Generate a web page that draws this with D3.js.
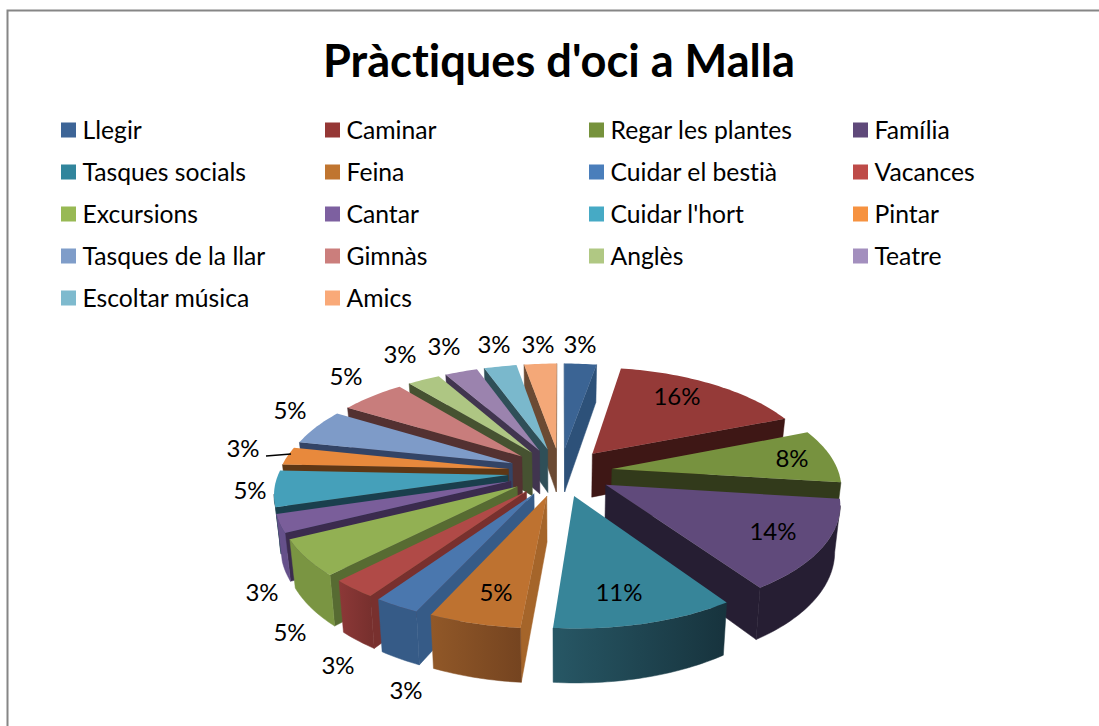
<!DOCTYPE html>
<html><head><meta charset="utf-8">
<style>html,body{margin:0;padding:0;background:#fff;overflow:hidden}svg{display:block}text{font-family:Lato,"Liberation Sans",sans-serif;fill:#000;font-variant-ligatures:none;font-feature-settings:"liga" 0}</style>
<script src="https://cdn.jsdelivr.net/npm/d3@7/dist/d3.min.js"></script>
</head><body><svg id="c" width="1099" height="726"></svg>
<script>
const title = "Pràctiques d'oci a Malla";
const categories = ["Llegir","Caminar","Regar les plantes","Família","Tasques socials","Feina","Cuidar el bestià","Vacances","Excursions","Cantar","Cuidar l'hort","Pintar","Tasques de la llar","Gimnàs","Anglès","Teatre","Escoltar música","Amics"];
const counts = [1,6,3,5,4,2,1,1,2,1,2,1,2,2,1,1,1,1];
// styles
const legendColors = ["#3D6597","#953735","#76923C","#5F497A","#31859C","#C07530","#4A7EBB","#BE4B48","#98B954","#7D60A0","#46AAC5","#F69240","#7F9DC9","#CB7E7C","#B0C883","#A38FBE","#7EBACE","#F9A978"];
const topColors =    ["#3B6494","#953A38","#77923F","#604A7B","#378599","#BE7230","#4A77AE","#B04A47","#92B053","#7A5E9A","#45A0BA","#E8893C","#7E9BC8","#C87D7C","#AEC683","#9B83AE","#7AB8CC","#F4A878"];
const radialColors = ["#2D5179","#3E1715","#323A1B","#261E33","#17333D","#A5652A","#365B87","#78302E","#576B32","#3B2B4E","#1A3F4D","#5E3715","#334466","#533131","#465231","#41354F","#2F4F58","#6B4A33"];
const wallStart =    ["#2D5179","#3E1715","#323A1B","#261E33","#17333D","#754420","#365B87","#78302E","#7A9542","#65508A","#1A3F4D","#5E3715","#334466","#533131","#465231","#41354F","#2F4F58","#6B4A33"];
const wallEnd =      ["#2D5179","#3E1715","#323A1B","#261E33","#275765","#915828","#365B87","#8C3837","#7A9542","#65508A","#1A3F4D","#5E3715","#334466","#533131","#465231","#41354F","#2F4F58","#6B4A33"];
// label anchors (text centres in page pixels)
const labelAnchors = [[580,344],[677,396],[792,458],[773,531],[619,592],[496,592],[406,690],[338,665],[290,632],[262,592],[250,490],[243,448],[290,410],[346,376],[400,354],[444,346],[494,344],[538,344]];
const leader = [[266,456],[291,454]];
const legendCols = [61,325,589,853], legendRows = [130,172,214,256,298];

const cx=560.5, cy=472, RR=226.5, RL=229, Rk=104.5, persp=.15, expl=.23, depth=44.5, bottomX=.98;
const svg = d3.select("#c");
const defs = svg.append("defs");
svg.append("path").attr("d","M7.5 726V10.5H1099").attr("fill","none").attr("stroke","#868686").attr("stroke-width",2);
svg.append("text").attr("x",559).attr("y",77).attr("text-anchor","middle").attr("font-size",45.2).attr("font-weight",700).text(title);

const lg = svg.append("g").selectAll("g").data(categories).join("g")
  .attr("transform",(d,i)=>`translate(${legendCols[i%4]},${legendRows[Math.floor(i/4)]})`);
lg.append("rect").attr("x",0).attr("y",-7.5).attr("width",15).attr("height",15).attr("fill",(d,i)=>legendColors[i]);
lg.append("text").attr("x",21.5).attr("y",8.5).attr("font-size",24.7).text(d=>d);

function project(X,Y,z){
  const s=1/(1-persp*Y), dx=X*s*(X<0?RL:RR);
  return [cx+dx*(z?bottomX:1), cy+Y*s*Rk+(z?depth*s:0)];
}
const pie=d3.pie().sort(null).startAngle(0).endAngle(2*Math.PI);
const arcs=pie(counts).map((a,i)=>({...a,i,mid:(a.startAngle+a.endAngle)/2}));
const line=d3.line();
const g=svg.append("g");
const order=arcs.slice().sort((a,b)=>Math.cos(b.mid)-Math.cos(a.mid));
const wallPath=pts=>line([...pts.map(p=>project(p.X,p.Y,0)),...pts.slice().reverse().map(p=>project(p.X,p.Y,1))])+"Z";
order.forEach(a=>{
  const i=a.i, ox=expl*Math.sin(a.mid), oy=-expl*Math.cos(a.mid);
  const pt=t=>({X:ox+Math.sin(t),Y:oy-Math.cos(t)});
  const tip={X:ox,Y:oy};
  const n=Math.max(8,Math.ceil((a.endAngle-a.startAngle)/.02));
  const ts=d3.range(n+1).map(k=>a.startAngle+(a.endAngle-a.startAngle)*k/n);
  const rim=ts.map(pt);
  const sl=g.append("g");
  const px=p=>project(p.X,p.Y,0)[0];
  const face=(pts,fill)=>sl.append("path").attr("d",wallPath(pts)).attr("fill",fill).attr("stroke",fill).attr("stroke-width",.5);
  if(px(rim[0])<px(tip)) face([tip,rim[0]],radialColors[i]);
  if(px(tip)<px(rim[n])) face([rim[n],tip],radialColors[i]);
  const vis=rim.filter((p,k)=>(k<n&&px(rim[k+1])<px(p))||(k>0&&px(p)<px(rim[k-1])));
  if(vis.length>1){
    const id="w"+i, lin=defs.append("linearGradient").attr("id",id).attr("gradientUnits","userSpaceOnUse")
      .attr("x1",px(rim[0])).attr("x2",px(rim[n])).attr("y1",0).attr("y2",0);
    lin.append("stop").attr("offset",0).attr("stop-color",wallStart[i]);
    lin.append("stop").attr("offset",1).attr("stop-color",wallEnd[i]);
    face(vis,`url(#${id})`);
  }
  sl.append("path").attr("d",line([tip,...rim].map(p=>project(p.X,p.Y,0)))+"Z").attr("fill",topColors[i]);
});
const fmt=d3.format(".0%"), total=d3.sum(counts);
svg.append("path").attr("d",line(leader)).attr("stroke","#000").attr("stroke-width",1.6).attr("fill","none");
svg.append("g").selectAll("text").data(counts).join("text")
  .attr("x",(d,i)=>labelAnchors[i][0]).attr("y",(d,i)=>labelAnchors[i][1]+8.5)
  .attr("text-anchor","middle").attr("font-size",24).text(d=>fmt(d/total));
</script></body></html>
